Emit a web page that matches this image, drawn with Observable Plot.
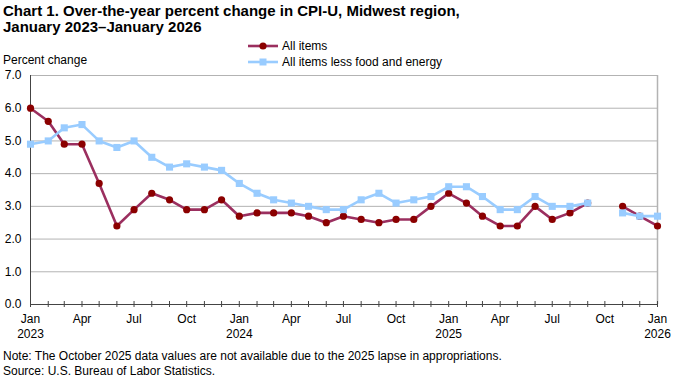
<!DOCTYPE html>
<html>
<head>
<meta charset="utf-8">
<script src="https://cdn.jsdelivr.net/npm/d3@7"></script>
<script src="https://cdn.jsdelivr.net/npm/@observablehq/plot@0.6"></script>
<style>
  body { margin: 0; background: #fff; }
  #wrap { position: relative; width: 680px; height: 380px; font-family: "Liberation Sans", Arial, sans-serif; color: #000; }
  #wrap svg.plot { position: absolute; left: 0; top: 0; }
  .title { position: absolute; left: 3px; top: 3px; font-size: 15px; font-weight: bold; line-height: 16px; }
  .ylab { position: absolute; left: 3px; top: 53px; font-size: 12px; }
  .legend { position: absolute; left: 248px; top: 38px; font-size: 12px; }
  .legend div { display: flex; align-items: center; height: 16px; }
  .legend svg { margin-right: 4px; }
  .notes { position: absolute; left: 3px; top: 349px; font-size: 12px; line-height: 15px; }
</style>
</head>
<body>
<div id="wrap">
  <div class="title">Chart 1. Over-the-year percent change in CPI-U, Midwest region,<br>January 2023–January 2026</div>
  <div class="ylab">Percent change</div>
  <div class="legend" id="legend"></div>
  <div class="notes">Note: The October 2025 data values are not available due to the 2025 lapse in appropriations.<br>Source: U.S. Bureau of Labor Statistics.</div>
</div>
<script>
const months = [
  "2023-01","2023-02","2023-03","2023-04","2023-05","2023-06","2023-07","2023-08","2023-09","2023-10","2023-11","2023-12",
  "2024-01","2024-02","2024-03","2024-04","2024-05","2024-06","2024-07","2024-08","2024-09","2024-10","2024-11","2024-12",
  "2025-01","2025-02","2025-03","2025-04","2025-05","2025-06","2025-07","2025-08","2025-09","2025-10","2025-11","2025-12",
  "2026-01"
];
const allItems = [
  6.0,5.6,4.9,4.9,3.7,2.4,2.9,3.4,3.2,2.9,2.9,3.2,
  2.7,2.8,2.8,2.8,2.7,2.5,2.7,2.6,2.5,2.6,2.6,3.0,
  3.4,3.1,2.7,2.4,2.4,3.0,2.6,2.8,3.1,null,3.0,2.7,
  2.4
];
const coreItems = [
  4.9,5.0,5.4,5.5,5.0,4.8,5.0,4.5,4.2,4.3,4.2,4.1,
  3.7,3.4,3.2,3.1,3.0,2.9,2.9,3.2,3.4,3.1,3.2,3.3,
  3.6,3.6,3.3,2.9,2.9,3.3,3.0,3.0,3.1,null,2.8,2.7,
  2.7
];
const yTicks = [0,1,2,3,4,5,6,7];
const seriesNames = ["All items", "All items less food and energy"];
const monthAbbr = ["Jan","Feb","Mar","Apr","May","Jun","Jul","Aug","Sep","Oct","Nov","Dec"];

const redLine = "#9b2f5f", redDot = "#8b0000", blue = "#99ccff";

const parse = d3.utcParse("%Y-%m");
const dates = months.map(parse);
const rowsAll = dates.map((d, i) => ({date: d, value: allItems[i]}));
const rowsCore = dates.map((d, i) => ({date: d, value: coreItems[i]}));
const quarterDates = dates.filter(d => d.getUTCMonth() % 3 === 0);
const first = dates[0], last = dates[dates.length - 1];

const fmtX = d => {
  const m = d.getUTCMonth();
  return m === 0 ? `${monthAbbr[m]}\n${d.getUTCFullYear()}` : monthAbbr[m];
};

const chart = Plot.plot({
  width: 680,
  height: 380,
  marginTop: 75,
  marginBottom: 76,
  marginLeft: 30,
  marginRight: 23,
  style: {fontFamily: '"Liberation Sans", Arial, sans-serif', fontSize: "12px", color: "#000", background: "transparent"},
  x: {type: "utc", domain: [first, last]},
  y: {domain: [0, 7]},
  marks: [
    Plot.gridY(yTicks, {stroke: "#b3b3b3", strokeOpacity: 1, strokeWidth: 1}),
    Plot.ruleX([last], {stroke: "#b3b3b3", strokeWidth: 1.5}),
    Plot.ruleX([first], {stroke: "#444"}),
    Plot.ruleY([0], {stroke: "#444"}),
    Plot.ruleX(dates, {x: d => d, y1: 0, y2: 0, insetTop: -3, insetBottom: -3, stroke: "#444"}),
    Plot.axisY(yTicks, {tickSize: 0, tickPadding: 9, tickFormat: d => d.toFixed(1), label: null, fontSize: 12}),
    Plot.axisX(quarterDates, {tickSize: 0, tickPadding: 8, tickFormat: fmtX, label: null, fontSize: 12, lineHeight: 1.25}),
    Plot.line(rowsAll, {x: "date", y: "value", stroke: redLine, strokeWidth: 2.6}),
    Plot.dot(rowsAll, {x: "date", y: "value", r: 3.6, fill: redDot, stroke: "none"}),
    Plot.line(rowsCore, {x: "date", y: "value", stroke: blue, strokeWidth: 2.6}),
    Plot.dot(rowsCore, {x: "date", y: "value", symbol: "square", r: 4, fill: blue, stroke: "none"})
  ]
});
chart.classList.add("plot");
document.getElementById("wrap").appendChild(chart);

// legend
const legend = document.getElementById("legend");
const swatches = [
  `<svg width="30" height="10"><line x1="0" x2="30" y1="5" y2="5" stroke="${redLine}" stroke-width="2.6"/><circle cx="15" cy="5" r="3.6" fill="${redDot}"/></svg>`,
  `<svg width="30" height="10"><line x1="0" x2="30" y1="5" y2="5" stroke="${blue}" stroke-width="2.6"/><rect x="11.5" y="1.5" width="7" height="7" fill="${blue}"/></svg>`
];
seriesNames.forEach((name, i) => {
  const row = document.createElement("div");
  row.innerHTML = swatches[i] + `<span>${name}</span>`;
  legend.appendChild(row);
});
</script>
</body>
</html>
